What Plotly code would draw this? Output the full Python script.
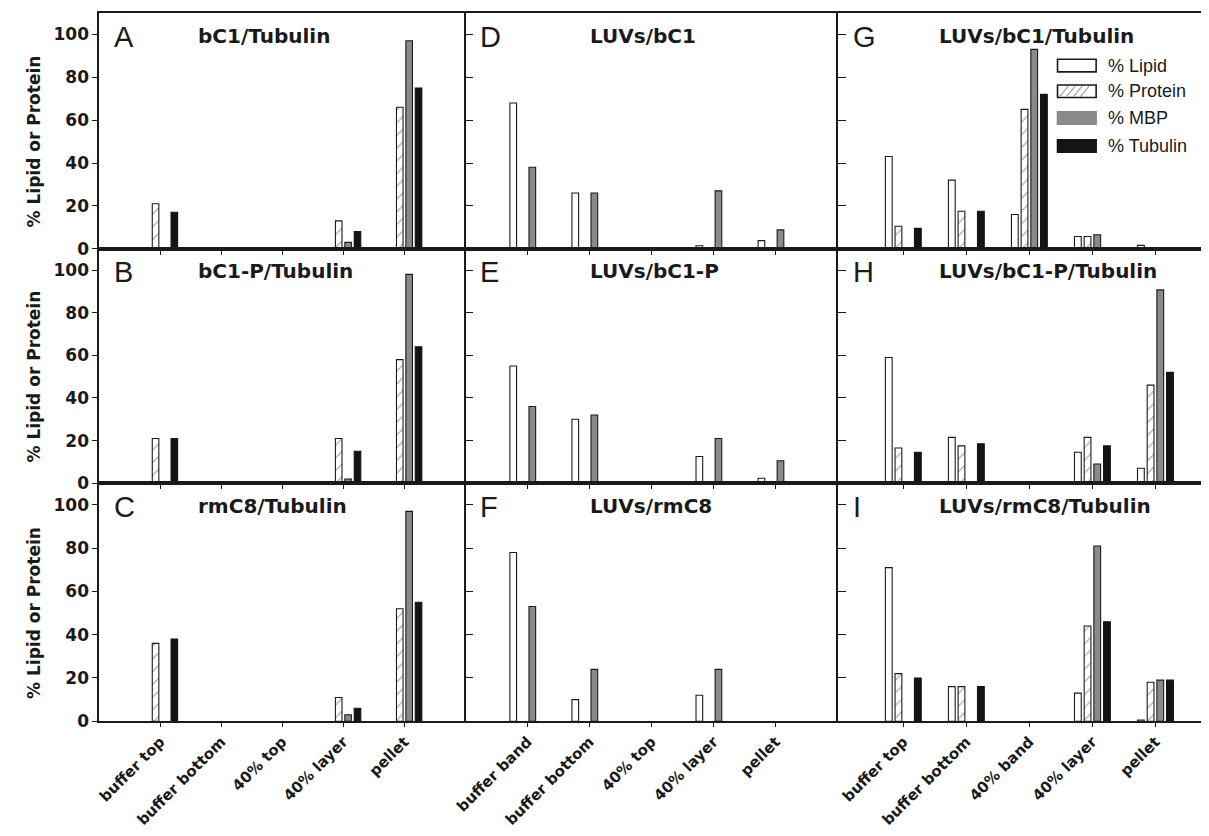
import plotly.graph_objects as go

# ---------------- data ----------------
cats_col1 = ["buffer top", "buffer bottom", "40% top", "40% layer", "pellet"]
cats_col2 = ["buffer band", "buffer bottom", "40% top", "40% layer", "pellet"]
cats_col3 = ["buffer top", "buffer bottom", "40% band", "40% layer", "pellet"]

series_names = ["% Lipid", "% Protein", "% MBP", "% Tubulin"]

# Panel A  bC1/Tubulin
A_lipid = [None, None, None, None, None]
A_protein = [21, None, None, 13, 66]
A_mbp = [None, None, None, 3, 97]
A_tubulin = [17, None, None, 8, 75]
# Panel B  bC1-P/Tubulin
B_lipid = [None, None, None, None, None]
B_protein = [21, None, None, 21, 58]
B_mbp = [None, None, None, 2, 98]
B_tubulin = [21, None, None, 15, 64]
# Panel C  rmC8/Tubulin
C_lipid = [None, None, None, None, None]
C_protein = [36, None, None, 11, 52]
C_mbp = [None, None, None, 3, 97]
C_tubulin = [38, None, None, 6, 55]
# Panel D  LUVs/bC1
D_lipid = [68, 26, None, 1.4, 3.8]
D_protein = [None, None, None, None, None]
D_mbp = [38, 26, None, 27, 8.8]
D_tubulin = [None, None, None, None, None]
# Panel E  LUVs/bC1-P
E_lipid = [55, 30, None, 12.5, 2.3]
E_protein = [None, None, None, None, None]
E_mbp = [36, 32, None, 21, 10.5]
E_tubulin = [None, None, None, None, None]
# Panel F  LUVs/rmC8
F_lipid = [78, 10, None, 12, None]
F_protein = [None, None, None, None, None]
F_mbp = [53, 24, None, 24, None]
F_tubulin = [None, None, None, None, None]
# Panel G  LUVs/bC1/Tubulin
G_lipid = [43, 32, 16, 5.7, 1.6]
G_protein = [10.5, 17.5, 65, 5.7, None]
G_mbp = [None, None, 93, 6.5, None]
G_tubulin = [9.5, 17.5, 72, None, None]
# Panel H  LUVs/bC1-P/Tubulin
H_lipid = [59, 21.5, None, 14.5, 7]
H_protein = [16.5, 17.5, None, 21.5, 46]
H_mbp = [None, None, None, 9, 90.7]
H_tubulin = [14.5, 18.5, None, 17.5, 52]
# Panel I  LUVs/rmC8/Tubulin
I_lipid = [71, 16, None, 13, 0.6]
I_protein = [22, 16, None, 44, 18]
I_mbp = [None, None, None, 81, 19]
I_tubulin = [20, 16, None, 46, 19]

panels = [
    # letter, row, col, title, categories, series
    ("A", 0, 0, "bC1/Tubulin", cats_col1, [A_lipid, A_protein, A_mbp, A_tubulin]),
    ("B", 1, 0, "bC1-P/Tubulin", cats_col1, [B_lipid, B_protein, B_mbp, B_tubulin]),
    ("C", 2, 0, "rmC8/Tubulin", cats_col1, [C_lipid, C_protein, C_mbp, C_tubulin]),
    ("D", 0, 1, "LUVs/bC1", cats_col2, [D_lipid, D_protein, D_mbp, D_tubulin]),
    ("E", 1, 1, "LUVs/bC1-P", cats_col2, [E_lipid, E_protein, E_mbp, E_tubulin]),
    ("F", 2, 1, "LUVs/rmC8", cats_col2, [F_lipid, F_protein, F_mbp, F_tubulin]),
    ("G", 0, 2, "LUVs/bC1/Tubulin", cats_col3, [G_lipid, G_protein, G_mbp, G_tubulin]),
    ("H", 1, 2, "LUVs/bC1-P/Tubulin", cats_col3, [H_lipid, H_protein, H_mbp, H_tubulin]),
    ("I", 2, 2, "LUVs/rmC8/Tubulin", cats_col3, [I_lipid, I_protein, I_mbp, I_tubulin]),
]

# ---------------- layout geometry ----------------
# The page body has an 8 px margin, so the figure is drawn at (8, 8);
# positions below are given in page pixels and converted.
OFF = 8
W, H = 1201, 828
def px_x(v):
    return (v - OFF) / W
def px_y(v):
    return 1 - (v - OFF) / H

col_px = [(88, 458), (458, 834), (834, 1209)]
row_px = [(13, 251.7), (251.7, 489), (489, 730)]
x_ranges = [[-1, 5], [-1, 5], [-1.04, 4.85]]
title_x_px = [188, 584, 936]

BOLD = "DejaVu Sans"
ARIAL = "Liberation Sans, Arial"

styles = [
    dict(color="white", line=dict(color="#1a1a1a", width=1.1)),
    dict(color="white", line=dict(color="#1a1a1a", width=1.1),
         pattern=dict(shape="/", fgcolor="#333333", bgcolor="white", size=9, solidity=0.12)),
    dict(color="#8a8a8a", line=dict(color="#1a1a1a", width=1.1)),
    dict(color="#141414", line=dict(color="#141414", width=1.1)),
]

fig = go.Figure()
layout = dict(
    width=W, height=H,
    margin=dict(l=0, r=0, t=0, b=0),
    paper_bgcolor="white", plot_bgcolor="white",
    barmode="group", bargap=0.385, bargroupgap=0.3,
    showlegend=False,
    font=dict(family=BOLD, color="black"),
)
annotations = []
shapes = []

for letter, r, c, title, cats, series in panels:
    k = r * 3 + c + 1
    xa = "x" if k == 1 else f"x{k}"
    ya = "y" if k == 1 else f"y{k}"
    for name, vals, st in zip(series_names, series, styles):
        fig.add_trace(go.Bar(x=cats, y=vals, name=name, marker=st,
                             xaxis=xa, yaxis=ya, showlegend=False))
    xdom = [px_x(col_px[c][0]), min(1.0, px_x(col_px[c][1]))]
    ydom = [px_y(row_px[r][1]), px_y(row_px[r][0])]
    xkey = "xaxis" if k == 1 else f"xaxis{k}"
    ykey = "yaxis" if k == 1 else f"yaxis{k}"
    layout[xkey] = dict(
        domain=xdom, anchor=ya, type="category", categoryorder="array",
        categoryarray=cats, range=x_ranges[c],
        showline=True, linecolor="#1a1a1a", linewidth=1.6, mirror=True,
        ticks="outside", ticklen=4, tickcolor="#1a1a1a", tickwidth=1.3,
        showticklabels=(r == 2), tickangle=-45,
        tickfont=dict(family=BOLD, size=15, color="#1a1a1a", weight="bold"),
        showgrid=False, zeroline=False,
    )
    layout[ykey] = dict(
        domain=ydom, anchor=xa, range=[0, 110],
        tickvals=[0, 20, 40, 60, 80, 100],
        showline=True, linecolor="#1a1a1a", linewidth=1.6, mirror=False,
        ticks="outside" if c == 0 else "inside", ticklen=5 if c == 0 else 8,
        tickcolor="#1a1a1a", tickwidth=1.3,
        showticklabels=(c == 0),
        tickfont=dict(family=BOLD, size=17, color="#1a1a1a", weight="bold"),
        showgrid=False, zeroline=False,
    )
    top = row_px[r][0]
    # panel letter
    annotations.append(dict(
        text=letter, xref="paper", yref="paper",
        x=px_x(col_px[c][0] + 13), y=px_y(top + 24),
        xanchor="left", yanchor="middle", showarrow=False,
        font=dict(family=ARIAL, size=29, color="#1a1a1a")))
    # panel title
    annotations.append(dict(
        text=f"<b>{title}</b>", xref="paper", yref="paper",
        x=px_x(title_x_px[c] - 2), y=px_y(top + 23),
        xanchor="left", yanchor="middle", showarrow=False,
        font=dict(family=BOLD, size=20, color="#1a1a1a")))
    # y-axis titles on first column
    if c == 0:
        annotations.append(dict(
            text="<b>% Lipid or Protein</b>", xref="paper", yref=ya,
            x=px_x(22), y=50, textangle=-90,
            xanchor="center", yanchor="middle", showarrow=False,
            font=dict(family=BOLD, size=17, color="#1a1a1a")))

# ---------------- custom legend (in panel G) ----------------
leg_x0, leg_x1 = 1056, 1095
leg_rows = [66.3, 92.3, 119.3, 147.7]
leg_h = 12.7
for i, (name, yc) in enumerate(zip(series_names, leg_rows)):
    fillc = ["white", "white", "#8a8a8a", "#141414"][i]
    linec = ["#1a1a1a", "#1a1a1a", "#8a8a8a", "#141414"][i]
    shapes.append(dict(type="rect", xref="paper", yref="paper",
                       x0=px_x(leg_x0), x1=px_x(leg_x1),
                       y0=px_y(yc + leg_h / 2), y1=px_y(yc - leg_h / 2),
                       fillcolor=fillc, line=dict(color=linec, width=1.6)))
    if i == 1:
        step = 7
        xs = leg_x0 + 2
        while xs + 9 <= leg_x1 - 1:
            shapes.append(dict(type="line", xref="paper", yref="paper",
                               x0=px_x(xs), x1=px_x(xs + 9),
                               y0=px_y(yc + leg_h / 2 - 1),
                               y1=px_y(yc - leg_h / 2 + 1),
                               line=dict(color="#555555", width=0.8)))
            xs += step
    annotations.append(dict(
        text=name, xref="paper", yref="paper",
        x=px_x(1105), y=px_y(yc), xanchor="left", yanchor="middle",
        showarrow=False, font=dict(family=ARIAL, size=18, color="#1a1a1a")))

layout["annotations"] = annotations
layout["shapes"] = shapes
fig.update_layout(**layout)

fig.write_html("out.html")
